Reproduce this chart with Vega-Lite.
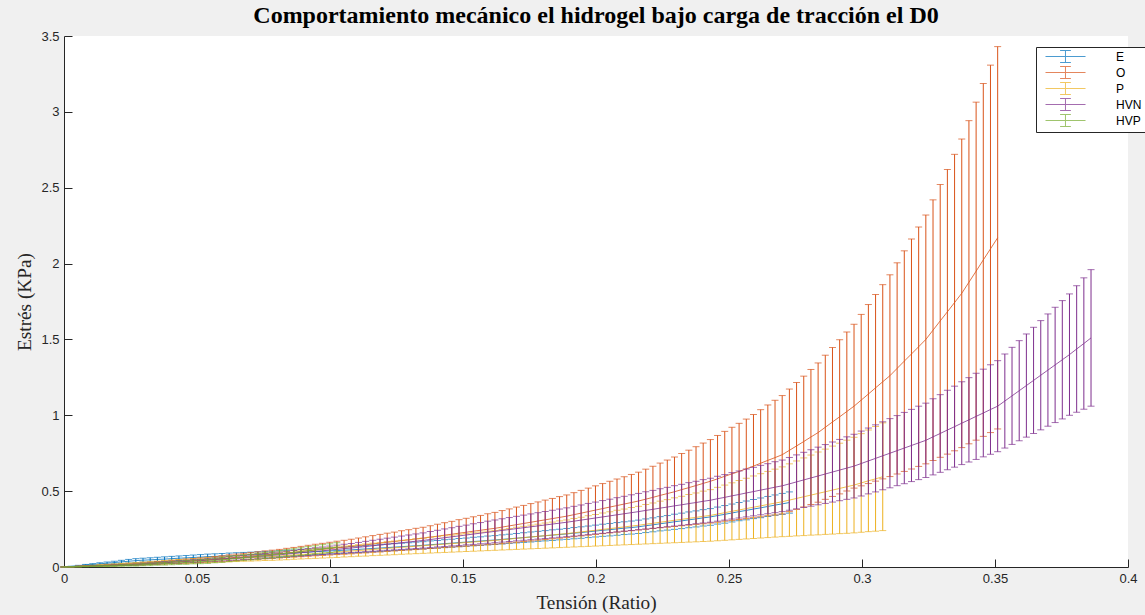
{
"$schema":"https://vega.github.io/schema/vega-lite/v6.json",
"width":1064,"height":531,
"autosize":{"type":"none"},
"padding":{"left":64,"top":36,"right":17,"bottom":48},
"background":"#f0f0f0",
"view":{"fill":"white","stroke":null},
"title":{"text":"Comportamiento mecánico el hidrogel bajo carga de tracción el D0","font":"Liberation Serif","fontSize":24,"fontWeight":"bold","color":"black","offset":2},
"datasets":{
"E":[{"x":0,"m":0,"e":0},{"x":0.0027,"m":0.004,"e":0.001},{"x":0.0054,"m":0.008,"e":0.003},{"x":0.0081,"m":0.013,"e":0.004},{"x":0.0108,"m":0.017,"e":0.005},{"x":0.0135,"m":0.021,"e":0.007},{"x":0.0162,"m":0.025,"e":0.008},{"x":0.0189,"m":0.029,"e":0.009},{"x":0.0216,"m":0.034,"e":0.01},{"x":0.0243,"m":0.038,"e":0.012},
{"x":0.027,"m":0.042,"e":0.013},{"x":0.0297,"m":0.045,"e":0.013},{"x":0.0324,"m":0.047,"e":0.014},{"x":0.0351,"m":0.05,"e":0.014},{"x":0.0378,"m":0.052,"e":0.015},{"x":0.0405,"m":0.055,"e":0.015},{"x":0.0432,"m":0.058,"e":0.015},{"x":0.0459,"m":0.06,"e":0.016},{"x":0.0486,"m":0.063,"e":0.016},{"x":0.0513,"m":0.065,"e":0.017},
{"x":0.054,"m":0.068,"e":0.017},{"x":0.0567,"m":0.07,"e":0.017},{"x":0.0594,"m":0.072,"e":0.017},{"x":0.0621,"m":0.074,"e":0.018},{"x":0.0648,"m":0.076,"e":0.018},{"x":0.0675,"m":0.078,"e":0.018},{"x":0.0702,"m":0.08,"e":0.018},{"x":0.0729,"m":0.082,"e":0.018},{"x":0.0756,"m":0.084,"e":0.019},{"x":0.0783,"m":0.086,"e":0.019},
{"x":0.081,"m":0.088,"e":0.019},{"x":0.0837,"m":0.091,"e":0.019},{"x":0.0864,"m":0.093,"e":0.019},{"x":0.0891,"m":0.096,"e":0.02},{"x":0.0918,"m":0.098,"e":0.02},{"x":0.0945,"m":0.101,"e":0.02},{"x":0.0972,"m":0.103,"e":0.02},{"x":0.0999,"m":0.106,"e":0.02},{"x":0.1026,"m":0.108,"e":0.021},{"x":0.1053,"m":0.111,"e":0.021},
{"x":0.108,"m":0.113,"e":0.021},{"x":0.1107,"m":0.116,"e":0.021},{"x":0.1134,"m":0.119,"e":0.022},{"x":0.1161,"m":0.122,"e":0.022},{"x":0.1188,"m":0.125,"e":0.022},{"x":0.1215,"m":0.128,"e":0.023},{"x":0.1242,"m":0.131,"e":0.023},{"x":0.1269,"m":0.134,"e":0.023},{"x":0.1296,"m":0.137,"e":0.023},{"x":0.1323,"m":0.14,"e":0.024},
{"x":0.135,"m":0.143,"e":0.024},{"x":0.1377,"m":0.147,"e":0.025},{"x":0.1404,"m":0.15,"e":0.025},{"x":0.1431,"m":0.154,"e":0.026},{"x":0.1458,"m":0.157,"e":0.026},{"x":0.1485,"m":0.161,"e":0.027},{"x":0.1512,"m":0.164,"e":0.027},{"x":0.1539,"m":0.168,"e":0.028},{"x":0.1566,"m":0.171,"e":0.028},{"x":0.1593,"m":0.175,"e":0.029},
{"x":0.162,"m":0.178,"e":0.029},{"x":0.1647,"m":0.182,"e":0.03},{"x":0.1674,"m":0.186,"e":0.03},{"x":0.1701,"m":0.19,"e":0.031},{"x":0.1728,"m":0.194,"e":0.032},{"x":0.1755,"m":0.198,"e":0.033},{"x":0.1782,"m":0.202,"e":0.033},{"x":0.1809,"m":0.206,"e":0.034},{"x":0.1836,"m":0.21,"e":0.035},{"x":0.1863,"m":0.214,"e":0.035},
{"x":0.189,"m":0.218,"e":0.036},{"x":0.1917,"m":0.223,"e":0.037},{"x":0.1944,"m":0.227,"e":0.038},{"x":0.1971,"m":0.232,"e":0.038},{"x":0.1998,"m":0.237,"e":0.039},{"x":0.2025,"m":0.242,"e":0.04},{"x":0.2052,"m":0.246,"e":0.041},{"x":0.2079,"m":0.251,"e":0.042},{"x":0.2106,"m":0.256,"e":0.042},{"x":0.2133,"m":0.26,"e":0.043},
{"x":0.216,"m":0.265,"e":0.044},{"x":0.2187,"m":0.272,"e":0.045},{"x":0.2214,"m":0.278,"e":0.046},{"x":0.2241,"m":0.285,"e":0.047},{"x":0.2268,"m":0.291,"e":0.048},{"x":0.2295,"m":0.298,"e":0.05},{"x":0.2322,"m":0.304,"e":0.051},{"x":0.2349,"m":0.311,"e":0.052},{"x":0.2376,"m":0.317,"e":0.053},{"x":0.2403,"m":0.324,"e":0.054},
{"x":0.243,"m":0.33,"e":0.055},{"x":0.2457,"m":0.339,"e":0.056},{"x":0.2484,"m":0.347,"e":0.058},{"x":0.2511,"m":0.356,"e":0.059},{"x":0.2538,"m":0.365,"e":0.06},{"x":0.2565,"m":0.373,"e":0.062},{"x":0.2592,"m":0.382,"e":0.063},{"x":0.2619,"m":0.39,"e":0.065},{"x":0.2646,"m":0.399,"e":0.066},{"x":0.2673,"m":0.408,"e":0.067},{"x":0.27,"m":0.416,"e":0.069},{"x":0.2727,"m":0.425,"e":0.07}],
"O":[{"x":0,"m":0,"e":0},{"x":0.0027,"m":0.002,"e":0.001},{"x":0.0054,"m":0.004,"e":0.001},{"x":0.0081,"m":0.005,"e":0.002},{"x":0.0108,"m":0.007,"e":0.002},{"x":0.0135,"m":0.009,"e":0.003},{"x":0.0162,"m":0.011,"e":0.004},{"x":0.0189,"m":0.013,"e":0.004},{"x":0.0216,"m":0.014,"e":0.005},{"x":0.0243,"m":0.016,"e":0.005},
{"x":0.027,"m":0.018,"e":0.006},{"x":0.0297,"m":0.021,"e":0.007},{"x":0.0324,"m":0.024,"e":0.008},{"x":0.0351,"m":0.027,"e":0.009},{"x":0.0378,"m":0.03,"e":0.01},{"x":0.0405,"m":0.033,"e":0.011},{"x":0.0432,"m":0.036,"e":0.012},{"x":0.0459,"m":0.039,"e":0.013},{"x":0.0486,"m":0.042,"e":0.014},{"x":0.0513,"m":0.045,"e":0.015},
{"x":0.054,"m":0.048,"e":0.016},{"x":0.0567,"m":0.052,"e":0.017},{"x":0.0594,"m":0.056,"e":0.018},{"x":0.0621,"m":0.06,"e":0.02},{"x":0.0648,"m":0.064,"e":0.021},{"x":0.0675,"m":0.068,"e":0.022},{"x":0.0702,"m":0.072,"e":0.023},{"x":0.0729,"m":0.076,"e":0.024},{"x":0.0756,"m":0.08,"e":0.026},{"x":0.0783,"m":0.084,"e":0.027},
{"x":0.081,"m":0.088,"e":0.028},{"x":0.0837,"m":0.093,"e":0.03},{"x":0.0864,"m":0.097,"e":0.032},{"x":0.0891,"m":0.102,"e":0.034},{"x":0.0918,"m":0.107,"e":0.036},{"x":0.0945,"m":0.112,"e":0.038},{"x":0.0972,"m":0.116,"e":0.04},{"x":0.0999,"m":0.121,"e":0.042},{"x":0.1026,"m":0.126,"e":0.044},{"x":0.1053,"m":0.13,"e":0.046},
{"x":0.108,"m":0.135,"e":0.048},{"x":0.1107,"m":0.141,"e":0.05},{"x":0.1134,"m":0.146,"e":0.053},{"x":0.1161,"m":0.152,"e":0.055},{"x":0.1188,"m":0.157,"e":0.058},{"x":0.1215,"m":0.163,"e":0.06},{"x":0.1242,"m":0.168,"e":0.062},{"x":0.1269,"m":0.174,"e":0.065},{"x":0.1296,"m":0.179,"e":0.067},{"x":0.1323,"m":0.185,"e":0.07},
{"x":0.135,"m":0.19,"e":0.072},{"x":0.1377,"m":0.197,"e":0.075},{"x":0.1404,"m":0.203,"e":0.079},{"x":0.1431,"m":0.21,"e":0.082},{"x":0.1458,"m":0.216,"e":0.085},{"x":0.1485,"m":0.223,"e":0.089},{"x":0.1512,"m":0.229,"e":0.092},{"x":0.1539,"m":0.236,"e":0.095},{"x":0.1566,"m":0.242,"e":0.098},{"x":0.1593,"m":0.249,"e":0.102},
{"x":0.162,"m":0.255,"e":0.105},{"x":0.1647,"m":0.263,"e":0.109},{"x":0.1674,"m":0.271,"e":0.112},{"x":0.1701,"m":0.279,"e":0.116},{"x":0.1728,"m":0.287,"e":0.119},{"x":0.1755,"m":0.295,"e":0.123},{"x":0.1782,"m":0.303,"e":0.126},{"x":0.1809,"m":0.311,"e":0.13},{"x":0.1836,"m":0.319,"e":0.133},{"x":0.1863,"m":0.327,"e":0.137},
{"x":0.189,"m":0.335,"e":0.14},{"x":0.1917,"m":0.345,"e":0.145},{"x":0.1944,"m":0.355,"e":0.15},{"x":0.1971,"m":0.365,"e":0.155},{"x":0.1998,"m":0.375,"e":0.16},{"x":0.2025,"m":0.385,"e":0.165},{"x":0.2052,"m":0.395,"e":0.17},{"x":0.2079,"m":0.405,"e":0.175},{"x":0.2106,"m":0.415,"e":0.18},{"x":0.2133,"m":0.425,"e":0.185},
{"x":0.216,"m":0.435,"e":0.19},{"x":0.2187,"m":0.447,"e":0.198},{"x":0.2214,"m":0.459,"e":0.205},{"x":0.2241,"m":0.472,"e":0.213},{"x":0.2268,"m":0.484,"e":0.221},{"x":0.2295,"m":0.496,"e":0.229},{"x":0.2322,"m":0.51,"e":0.238},{"x":0.2349,"m":0.523,"e":0.247},{"x":0.2376,"m":0.537,"e":0.256},{"x":0.2403,"m":0.551,"e":0.266},
{"x":0.243,"m":0.565,"e":0.275},{"x":0.2457,"m":0.581,"e":0.286},{"x":0.2484,"m":0.598,"e":0.296},{"x":0.2511,"m":0.614,"e":0.307},{"x":0.2538,"m":0.63,"e":0.317},{"x":0.2565,"m":0.647,"e":0.328},{"x":0.2592,"m":0.665,"e":0.34},{"x":0.2619,"m":0.684,"e":0.353},{"x":0.2646,"m":0.703,"e":0.365},{"x":0.2673,"m":0.721,"e":0.378},
{"x":0.27,"m":0.74,"e":0.39},{"x":0.2727,"m":0.769,"e":0.404},{"x":0.2754,"m":0.798,"e":0.418},{"x":0.2781,"m":0.827,"e":0.431},{"x":0.2808,"m":0.857,"e":0.445},{"x":0.2835,"m":0.886,"e":0.459},{"x":0.2862,"m":0.921,"e":0.475},{"x":0.2889,"m":0.956,"e":0.491},{"x":0.2916,"m":0.99,"e":0.508},{"x":0.2943,"m":1.025,"e":0.524},
{"x":0.297,"m":1.06,"e":0.54},{"x":0.2997,"m":1.1,"e":0.565},{"x":0.3024,"m":1.14,"e":0.59},{"x":0.3051,"m":1.181,"e":0.615},{"x":0.3078,"m":1.221,"e":0.64},{"x":0.3105,"m":1.261,"e":0.665},{"x":0.3132,"m":1.309,"e":0.696},{"x":0.3159,"m":1.357,"e":0.727},{"x":0.3186,"m":1.404,"e":0.758},{"x":0.3213,"m":1.452,"e":0.789},
{"x":0.324,"m":1.5,"e":0.82},{"x":0.3267,"m":1.561,"e":0.859},{"x":0.3294,"m":1.622,"e":0.899},{"x":0.3321,"m":1.682,"e":0.938},{"x":0.3348,"m":1.743,"e":0.977},{"x":0.3375,"m":1.804,"e":1.017},{"x":0.3402,"m":1.877,"e":1.065},{"x":0.3429,"m":1.95,"e":1.114},{"x":0.3456,"m":2.024,"e":1.163},{"x":0.3483,"m":2.097,"e":1.211},{"x":0.351,"m":2.17,"e":1.26}],
"P":[{"x":0,"m":0,"e":0},{"x":0.0027,"m":0.002,"e":0.001},{"x":0.0054,"m":0.004,"e":0.002},{"x":0.0081,"m":0.007,"e":0.002},{"x":0.0108,"m":0.009,"e":0.003},{"x":0.0135,"m":0.011,"e":0.004},{"x":0.0162,"m":0.013,"e":0.005},{"x":0.0189,"m":0.015,"e":0.006},{"x":0.0216,"m":0.018,"e":0.006},{"x":0.0243,"m":0.02,"e":0.007},
{"x":0.027,"m":0.022,"e":0.008},{"x":0.0297,"m":0.024,"e":0.009},{"x":0.0324,"m":0.027,"e":0.01},{"x":0.0351,"m":0.029,"e":0.01},{"x":0.0378,"m":0.031,"e":0.011},{"x":0.0405,"m":0.034,"e":0.012},{"x":0.0432,"m":0.036,"e":0.013},{"x":0.0459,"m":0.038,"e":0.014},{"x":0.0486,"m":0.04,"e":0.014},{"x":0.0513,"m":0.043,"e":0.015},
{"x":0.054,"m":0.045,"e":0.016},{"x":0.0567,"m":0.048,"e":0.017},{"x":0.0594,"m":0.05,"e":0.018},{"x":0.0621,"m":0.053,"e":0.019},{"x":0.0648,"m":0.056,"e":0.02},{"x":0.0675,"m":0.059,"e":0.021},{"x":0.0702,"m":0.061,"e":0.022},{"x":0.0729,"m":0.064,"e":0.023},{"x":0.0756,"m":0.067,"e":0.024},{"x":0.0783,"m":0.069,"e":0.025},
{"x":0.081,"m":0.072,"e":0.026},{"x":0.0837,"m":0.075,"e":0.027},{"x":0.0864,"m":0.079,"e":0.028},{"x":0.0891,"m":0.082,"e":0.029},{"x":0.0918,"m":0.085,"e":0.03},{"x":0.0945,"m":0.089,"e":0.032},{"x":0.0972,"m":0.092,"e":0.033},{"x":0.0999,"m":0.095,"e":0.034},{"x":0.1026,"m":0.098,"e":0.035},{"x":0.1053,"m":0.102,"e":0.036},
{"x":0.108,"m":0.105,"e":0.037},{"x":0.1107,"m":0.109,"e":0.038},{"x":0.1134,"m":0.112,"e":0.04},{"x":0.1161,"m":0.116,"e":0.041},{"x":0.1188,"m":0.119,"e":0.042},{"x":0.1215,"m":0.123,"e":0.044},{"x":0.1242,"m":0.126,"e":0.045},{"x":0.1269,"m":0.13,"e":0.046},{"x":0.1296,"m":0.133,"e":0.047},{"x":0.1323,"m":0.137,"e":0.049},
{"x":0.135,"m":0.14,"e":0.05},{"x":0.1377,"m":0.144,"e":0.052},{"x":0.1404,"m":0.147,"e":0.053},{"x":0.1431,"m":0.151,"e":0.055},{"x":0.1458,"m":0.154,"e":0.056},{"x":0.1485,"m":0.158,"e":0.058},{"x":0.1512,"m":0.161,"e":0.059},{"x":0.1539,"m":0.165,"e":0.061},{"x":0.1566,"m":0.168,"e":0.062},{"x":0.1593,"m":0.172,"e":0.064},
{"x":0.162,"m":0.175,"e":0.065},{"x":0.1647,"m":0.18,"e":0.068},{"x":0.1674,"m":0.184,"e":0.07},{"x":0.1701,"m":0.189,"e":0.073},{"x":0.1728,"m":0.193,"e":0.075},{"x":0.1755,"m":0.198,"e":0.078},{"x":0.1782,"m":0.202,"e":0.08},{"x":0.1809,"m":0.207,"e":0.083},{"x":0.1836,"m":0.211,"e":0.085},{"x":0.1863,"m":0.216,"e":0.088},
{"x":0.189,"m":0.22,"e":0.09},{"x":0.1917,"m":0.226,"e":0.094},{"x":0.1944,"m":0.231,"e":0.097},{"x":0.1971,"m":0.237,"e":0.101},{"x":0.1998,"m":0.242,"e":0.104},{"x":0.2025,"m":0.248,"e":0.108},{"x":0.2052,"m":0.253,"e":0.111},{"x":0.2079,"m":0.259,"e":0.115},{"x":0.2106,"m":0.264,"e":0.118},{"x":0.2133,"m":0.27,"e":0.122},
{"x":0.216,"m":0.275,"e":0.125},{"x":0.2187,"m":0.282,"e":0.13},{"x":0.2214,"m":0.288,"e":0.134},{"x":0.2241,"m":0.295,"e":0.139},{"x":0.2268,"m":0.301,"e":0.143},{"x":0.2295,"m":0.308,"e":0.148},{"x":0.2322,"m":0.314,"e":0.152},{"x":0.2349,"m":0.321,"e":0.157},{"x":0.2376,"m":0.327,"e":0.161},{"x":0.2403,"m":0.334,"e":0.166},
{"x":0.243,"m":0.34,"e":0.17},{"x":0.2457,"m":0.349,"e":0.176},{"x":0.2484,"m":0.358,"e":0.182},{"x":0.2511,"m":0.367,"e":0.188},{"x":0.2538,"m":0.376,"e":0.194},{"x":0.2565,"m":0.385,"e":0.2},{"x":0.2592,"m":0.394,"e":0.206},{"x":0.2619,"m":0.403,"e":0.212},{"x":0.2646,"m":0.412,"e":0.218},{"x":0.2673,"m":0.421,"e":0.224},
{"x":0.27,"m":0.43,"e":0.23},{"x":0.2727,"m":0.441,"e":0.239},{"x":0.2754,"m":0.452,"e":0.247},{"x":0.2781,"m":0.463,"e":0.256},{"x":0.2808,"m":0.474,"e":0.264},{"x":0.2835,"m":0.485,"e":0.273},{"x":0.2862,"m":0.496,"e":0.281},{"x":0.2889,"m":0.507,"e":0.29},{"x":0.2916,"m":0.518,"e":0.298},{"x":0.2943,"m":0.529,"e":0.307},
{"x":0.297,"m":0.54,"e":0.315},{"x":0.2997,"m":0.554,"e":0.325},{"x":0.3024,"m":0.568,"e":0.335},{"x":0.3051,"m":0.581,"e":0.345},{"x":0.3078,"m":0.595,"e":0.355}],
"HVN":[{"x":0,"m":0,"e":0},{"x":0.0027,"m":0.002,"e":0},{"x":0.0054,"m":0.003,"e":0.001},{"x":0.0081,"m":0.005,"e":0.001},{"x":0.0108,"m":0.006,"e":0.002},{"x":0.0135,"m":0.008,"e":0.002},{"x":0.0162,"m":0.01,"e":0.002},{"x":0.0189,"m":0.011,"e":0.003},{"x":0.0216,"m":0.013,"e":0.003},{"x":0.0243,"m":0.014,"e":0.004},
{"x":0.027,"m":0.016,"e":0.004},{"x":0.0297,"m":0.019,"e":0.005},{"x":0.0324,"m":0.022,"e":0.005},{"x":0.0351,"m":0.025,"e":0.006},{"x":0.0378,"m":0.028,"e":0.006},{"x":0.0405,"m":0.031,"e":0.007},{"x":0.0432,"m":0.033,"e":0.008},{"x":0.0459,"m":0.036,"e":0.008},{"x":0.0486,"m":0.039,"e":0.009},{"x":0.0513,"m":0.042,"e":0.009},
{"x":0.054,"m":0.045,"e":0.01},{"x":0.0567,"m":0.049,"e":0.011},{"x":0.0594,"m":0.052,"e":0.012},{"x":0.0621,"m":0.056,"e":0.012},{"x":0.0648,"m":0.059,"e":0.013},{"x":0.0675,"m":0.063,"e":0.014},{"x":0.0702,"m":0.066,"e":0.015},{"x":0.0729,"m":0.07,"e":0.016},{"x":0.0756,"m":0.073,"e":0.016},{"x":0.0783,"m":0.077,"e":0.017},
{"x":0.081,"m":0.08,"e":0.018},{"x":0.0837,"m":0.085,"e":0.019},{"x":0.0864,"m":0.089,"e":0.02},{"x":0.0891,"m":0.094,"e":0.022},{"x":0.0918,"m":0.098,"e":0.023},{"x":0.0945,"m":0.103,"e":0.024},{"x":0.0972,"m":0.107,"e":0.025},{"x":0.0999,"m":0.112,"e":0.026},{"x":0.1026,"m":0.116,"e":0.028},{"x":0.1053,"m":0.121,"e":0.029},
{"x":0.108,"m":0.125,"e":0.03},{"x":0.1107,"m":0.13,"e":0.032},{"x":0.1134,"m":0.135,"e":0.034},{"x":0.1161,"m":0.14,"e":0.036},{"x":0.1188,"m":0.145,"e":0.038},{"x":0.1215,"m":0.15,"e":0.04},{"x":0.1242,"m":0.155,"e":0.042},{"x":0.1269,"m":0.16,"e":0.044},{"x":0.1296,"m":0.165,"e":0.046},{"x":0.1323,"m":0.17,"e":0.048},
{"x":0.135,"m":0.175,"e":0.05},{"x":0.1377,"m":0.181,"e":0.053},{"x":0.1404,"m":0.187,"e":0.055},{"x":0.1431,"m":0.193,"e":0.058},{"x":0.1458,"m":0.199,"e":0.06},{"x":0.1485,"m":0.205,"e":0.063},{"x":0.1512,"m":0.211,"e":0.065},{"x":0.1539,"m":0.217,"e":0.068},{"x":0.1566,"m":0.223,"e":0.07},{"x":0.1593,"m":0.229,"e":0.073},
{"x":0.162,"m":0.235,"e":0.075},{"x":0.1647,"m":0.241,"e":0.077},{"x":0.1674,"m":0.247,"e":0.079},{"x":0.1701,"m":0.253,"e":0.081},{"x":0.1728,"m":0.259,"e":0.083},{"x":0.1755,"m":0.265,"e":0.085},{"x":0.1782,"m":0.271,"e":0.087},{"x":0.1809,"m":0.277,"e":0.089},{"x":0.1836,"m":0.283,"e":0.091},{"x":0.1863,"m":0.289,"e":0.093},
{"x":0.189,"m":0.295,"e":0.095},{"x":0.1917,"m":0.302,"e":0.098},{"x":0.1944,"m":0.309,"e":0.1},{"x":0.1971,"m":0.316,"e":0.103},{"x":0.1998,"m":0.323,"e":0.105},{"x":0.2025,"m":0.33,"e":0.108},{"x":0.2052,"m":0.337,"e":0.11},{"x":0.2079,"m":0.344,"e":0.113},{"x":0.2106,"m":0.351,"e":0.115},{"x":0.2133,"m":0.358,"e":0.118},
{"x":0.216,"m":0.365,"e":0.12},{"x":0.2187,"m":0.373,"e":0.123},{"x":0.2214,"m":0.38,"e":0.125},{"x":0.2241,"m":0.388,"e":0.128},{"x":0.2268,"m":0.395,"e":0.13},{"x":0.2295,"m":0.403,"e":0.133},{"x":0.2322,"m":0.41,"e":0.135},{"x":0.2349,"m":0.418,"e":0.138},{"x":0.2376,"m":0.425,"e":0.14},{"x":0.2403,"m":0.433,"e":0.143},
{"x":0.243,"m":0.44,"e":0.145},{"x":0.2457,"m":0.45,"e":0.148},{"x":0.2484,"m":0.459,"e":0.15},{"x":0.2511,"m":0.469,"e":0.153},{"x":0.2538,"m":0.478,"e":0.155},{"x":0.2565,"m":0.488,"e":0.158},{"x":0.2592,"m":0.497,"e":0.16},{"x":0.2619,"m":0.507,"e":0.163},{"x":0.2646,"m":0.516,"e":0.165},{"x":0.2673,"m":0.526,"e":0.168},
{"x":0.27,"m":0.535,"e":0.17},{"x":0.2727,"m":0.548,"e":0.174},{"x":0.2754,"m":0.561,"e":0.178},{"x":0.2781,"m":0.574,"e":0.182},{"x":0.2808,"m":0.587,"e":0.186},{"x":0.2835,"m":0.6,"e":0.19},{"x":0.2862,"m":0.613,"e":0.194},{"x":0.2889,"m":0.626,"e":0.198},{"x":0.2916,"m":0.639,"e":0.202},{"x":0.2943,"m":0.652,"e":0.206},
{"x":0.297,"m":0.665,"e":0.21},{"x":0.2997,"m":0.682,"e":0.214},{"x":0.3024,"m":0.699,"e":0.217},{"x":0.3051,"m":0.716,"e":0.221},{"x":0.3078,"m":0.733,"e":0.224},{"x":0.3105,"m":0.75,"e":0.228},{"x":0.3132,"m":0.767,"e":0.231},{"x":0.3159,"m":0.784,"e":0.235},{"x":0.3186,"m":0.801,"e":0.238},{"x":0.3213,"m":0.818,"e":0.242},
{"x":0.324,"m":0.835,"e":0.245},{"x":0.3267,"m":0.858,"e":0.251},{"x":0.3294,"m":0.88,"e":0.256},{"x":0.3321,"m":0.903,"e":0.262},{"x":0.3348,"m":0.925,"e":0.267},{"x":0.3375,"m":0.948,"e":0.273},{"x":0.3402,"m":0.97,"e":0.278},{"x":0.3429,"m":0.993,"e":0.284},{"x":0.3456,"m":1.015,"e":0.289},{"x":0.3483,"m":1.038,"e":0.295},
{"x":0.351,"m":1.06,"e":0.3},{"x":0.3537,"m":1.094,"e":0.31},{"x":0.3564,"m":1.128,"e":0.32},{"x":0.3591,"m":1.162,"e":0.33},{"x":0.3618,"m":1.196,"e":0.34},{"x":0.3645,"m":1.23,"e":0.35},{"x":0.3672,"m":1.264,"e":0.36},{"x":0.3699,"m":1.298,"e":0.37},{"x":0.3726,"m":1.332,"e":0.38},{"x":0.3753,"m":1.366,"e":0.39},
{"x":0.378,"m":1.4,"e":0.4},{"x":0.3807,"m":1.437,"e":0.417},{"x":0.3834,"m":1.473,"e":0.433},{"x":0.3861,"m":1.51,"e":0.45}],
"HVP":[{"x":0,"m":0,"e":0},{"x":0.0027,"m":0.001,"e":0.001},{"x":0.0054,"m":0.002,"e":0.001},{"x":0.0081,"m":0.004,"e":0.002},{"x":0.0108,"m":0.005,"e":0.002},{"x":0.0135,"m":0.006,"e":0.003},{"x":0.0162,"m":0.007,"e":0.004},{"x":0.0189,"m":0.008,"e":0.004},{"x":0.0216,"m":0.01,"e":0.005},{"x":0.0243,"m":0.011,"e":0.005},
{"x":0.027,"m":0.012,"e":0.006},{"x":0.0297,"m":0.015,"e":0.007},{"x":0.0324,"m":0.017,"e":0.008},{"x":0.0351,"m":0.02,"e":0.008},{"x":0.0378,"m":0.022,"e":0.009},{"x":0.0405,"m":0.025,"e":0.01},{"x":0.0432,"m":0.028,"e":0.011},{"x":0.0459,"m":0.03,"e":0.012},{"x":0.0486,"m":0.033,"e":0.012},{"x":0.0513,"m":0.035,"e":0.013},
{"x":0.054,"m":0.038,"e":0.014},{"x":0.0567,"m":0.043,"e":0.015},{"x":0.0594,"m":0.047,"e":0.016},{"x":0.0621,"m":0.052,"e":0.016},{"x":0.0648,"m":0.057,"e":0.017},{"x":0.0675,"m":0.062,"e":0.018},{"x":0.0702,"m":0.066,"e":0.019},{"x":0.0729,"m":0.071,"e":0.02},{"x":0.0756,"m":0.076,"e":0.02},{"x":0.0783,"m":0.08,"e":0.021},
{"x":0.081,"m":0.085,"e":0.022},{"x":0.0837,"m":0.091,"e":0.023},{"x":0.0864,"m":0.096,"e":0.024},{"x":0.0891,"m":0.102,"e":0.025},{"x":0.0918,"m":0.108,"e":0.026},{"x":0.0945,"m":0.113,"e":0.027},{"x":0.0972,"m":0.119,"e":0.028},{"x":0.0999,"m":0.124,"e":0.029},{"x":0.1026,"m":0.13,"e":0.03}]
},
"encoding":{
"x":{"field":"x","type":"quantitative","scale":{"domain":[0,0.4],"nice":false},
"axis":{"title":"Tensión (Ratio)","values":[0,0.05,0.1,0.15,0.2,0.25,0.3,0.35,0.4],"format":"~g","grid":false,"labelFlush":false,"labelOverlap":false,"tickSize":-8,"labelPadding":13,"domainColor":"#262626","tickColor":"#262626","labelColor":"#262626","labelFont":"Liberation Sans","labelFontSize":13,"titleFont":"Liberation Serif","titleFontSize":19.3,"titleFontWeight":"normal","titleColor":"#262626","titlePadding":8}},
"y":{"field":"m","type":"quantitative","scale":{"domain":[0,3.5],"nice":false},
"axis":{"title":"Estrés (KPa)","values":[0,0.5,1,1.5,2,2.5,3,3.5],"format":"~g","grid":false,"labelFlush":false,"labelOverlap":false,"tickSize":-8,"labelPadding":13,"domainColor":"#262626","tickColor":"#262626","labelColor":"#262626","labelFont":"Liberation Sans","labelFontSize":13,"titleFont":"Liberation Serif","titleFontSize":19.3,"titleFontWeight":"normal","titleColor":"#262626","titlePadding":6}}
},
"layer":[
{"data":{"name":"E"},"encoding":{"color":{"datum":"E","type":"nominal","scale":{"domain":["E","O","P","HVN","HVP"],"range":["#0072BD","#D95319","#EDB120","#7E2F8E","#77AC30"]},
"legend":{"orient":"none","legendX":972,"legendY":11,"title":null,"symbolType":"M0,0H6.67M3.33,-1V1M2.43,-1H4.23M2.43,1H4.23","symbolSize":144,"symbolStrokeWidth":1,"symbolOffset":0,"labelOffset":64,"labelFont":"Liberation Sans","labelFontSize":12,"labelColor":"black","fillColor":"white","strokeColor":"#262626","padding":3,"rowPadding":-1}}},
"layer":[{"mark":{"type":"line","strokeWidth":0.8},"encoding":{}},{"mark":{"type":"errorbar","ticks":true,"size":7,"thickness":1},"encoding":{"yError":{"field":"e"}}}]},
{"data":{"name":"O"},"encoding":{"color":{"datum":"O","type":"nominal"}},
"layer":[{"mark":{"type":"line","strokeWidth":0.8},"encoding":{}},{"mark":{"type":"errorbar","ticks":true,"size":7,"thickness":1},"encoding":{"yError":{"field":"e"}}}]},
{"data":{"name":"P"},"encoding":{"color":{"datum":"P","type":"nominal"}},
"layer":[{"mark":{"type":"line","strokeWidth":0.8},"encoding":{}},{"mark":{"type":"errorbar","ticks":true,"size":7,"thickness":1},"encoding":{"yError":{"field":"e"}}}]},
{"data":{"name":"HVN"},"encoding":{"color":{"datum":"HVN","type":"nominal"}},
"layer":[{"mark":{"type":"line","strokeWidth":0.8},"encoding":{}},{"mark":{"type":"errorbar","ticks":true,"size":7,"thickness":1},"encoding":{"yError":{"field":"e"}}}]},
{"data":{"name":"HVP"},"encoding":{"color":{"datum":"HVP","type":"nominal"}},
"layer":[{"mark":{"type":"line","strokeWidth":0.8},"encoding":{}},{"mark":{"type":"errorbar","ticks":true,"size":7,"thickness":1},"encoding":{"yError":{"field":"e"}}}]}
]
}
